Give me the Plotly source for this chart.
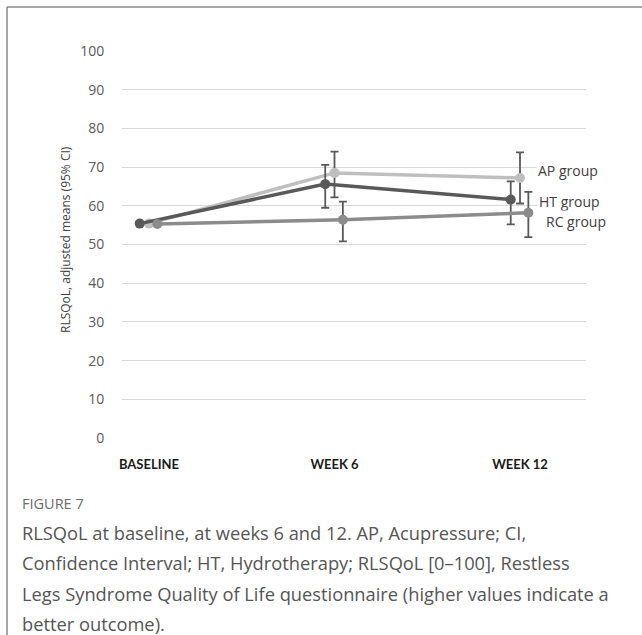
import plotly.graph_objects as go

# Time points and group labels
timepoints = ["BASELINE", "WEEK 6", "WEEK 12"]
groups = ["AP group", "HT group", "RC group"]

# Adjusted means with 95% CI bounds (no CI drawn at baseline)
ap_mean = [55.4, 68.5, 67.2]
ap_low = [None, 62.2, 60.6]
ap_high = [None, 74.0, 73.8]

ht_mean = [55.4, 65.6, 61.6]
ht_low = [None, 59.5, 55.2]
ht_high = [None, 70.6, 66.3]

rc_mean = [55.3, 56.4, 58.2]
rc_low = [None, 50.8, 51.9]
rc_high = [None, 61.1, 63.6]

y_ticks = [0, 10, 20, 30, 40, 50, 60, 70, 80, 90, 100]

W, H = 642, 635
L, R, T, B = 122, 56, 51, 197
PW, PH = W - L - R, H - T - B


def px_x(px):
    return (px - L) / PW


def px_y(py):
    return (H - B - py) / PH


def err(mean, low, high):
    plus = [0 if h is None else h - m for m, h in zip(mean, high)]
    minus = [0 if lo is None else m - lo for m, lo in zip(mean, low)]
    return plus, minus


series = [
    ("AP group", ap_mean, ap_low, ap_high, "#bfbfbf", 0.0),
    ("HT group", ht_mean, ht_low, ht_high, "#595959", -0.05),
    ("RC group", rc_mean, rc_low, rc_high, "#8c8c8c", 0.045),
]

fig = go.Figure()
for name, mean, low, high, color, shift in series:
    plus, minus = err(mean, low, high)
    xs = [i + shift for i in range(len(timepoints))]
    fig.add_trace(go.Scatter(
        x=xs, y=mean, name=name, mode="lines+markers",
        line=dict(color=color, width=3.5),
        marker=dict(color=color, size=10),
        error_y=dict(type="data", symmetric=False, array=plus, arrayminus=minus,
                     color="#595959", thickness=1.8, width=4),
        showlegend=False, hoverinfo="skip",
    ))

# Group labels beside the week-12 points
label_pos = {"AP group": (536, 170), "HT group": (537, 201.5), "RC group": (544, 221.5)}
for g in groups:
    lx, ly = label_pos[g]
    fig.add_annotation(x=px_x(lx), y=px_y(ly), xref="paper", yref="paper",
                       text=g, showarrow=False, xanchor="left", yanchor="middle",
                       font=dict(family="Open Sans", size=14, color="#404040"),
                       bgcolor="white", borderpad=1)

# Y-axis title
fig.add_annotation(x=px_x(65), y=px_y(240), xref="paper", yref="paper",
                   text="RLSQoL, adjusted means (95% CI)", textangle=-90,
                   showarrow=False, xanchor="center", yanchor="middle",
                   font=dict(family="Open Sans", size=12, color="#404040"))

# Caption
fig.add_annotation(x=px_x(20), y=px_y(503), xref="paper", yref="paper",
                   text="FIGURE 7", showarrow=False, xanchor="left", yanchor="middle",
                   font=dict(family="Open Sans", size=14.5, color="#6b6b6b"))
caption = [
    "RLSQoL at baseline, at weeks 6 and 12. AP, Acupressure; CI,",
    "Confidence Interval; HT, Hydrotherapy; RLSQoL [0\u2013100], Restless",
    "Legs Syndrome Quality of Life questionnaire (higher values indicate a",
    "better outcome).",
]
for i, line in enumerate(caption):
    fig.add_annotation(x=px_x(20), y=px_y(532 + i * 30.5), xref="paper", yref="paper",
                       text=line, showarrow=False, xanchor="left", yanchor="middle",
                       font=dict(family="Open Sans", size=18.3, color="#555555"))

# Frame lines (top and left)
frame = dict(color="#8a8a8a", width=1.5)
fig.add_shape(type="line", xref="paper", yref="paper",
              x0=px_x(7), x1=px_x(W + 2), y0=px_y(7), y1=px_y(7), line=frame)
fig.add_shape(type="line", xref="paper", yref="paper",
              x0=px_x(7), x1=px_x(7), y0=px_y(7), y1=px_y(H + 2), line=frame)

x0_px, step_px = 149, 185.5
fig.update_xaxes(
    range=[(L - x0_px) / step_px, (L + PW - x0_px) / step_px],
    tickvals=list(range(len(timepoints))), ticktext=timepoints,
    showgrid=False, zeroline=False, showline=False,
    ticks="outside", ticklen=14, tickcolor="rgba(0,0,0,0)",
    tickfont=dict(family="Lato", size=13, color="#1a1a1a", weight="bold"),
)
fig.update_yaxes(
    range=[0, 100], tickvals=y_ticks,
    showgrid=True, gridcolor="#d9d9d9", gridwidth=1.3,
    zeroline=False, showline=False,
    ticks="outside", ticklen=14, tickcolor="rgba(0,0,0,0)",
    tickfont=dict(family="Open Sans", size=14, color="#595959"),
)
fig.update_layout(
    width=W, height=H, margin=dict(l=L, r=R, t=T, b=B),
    paper_bgcolor="white", plot_bgcolor="white",
)

fig.write_html("out.html")
